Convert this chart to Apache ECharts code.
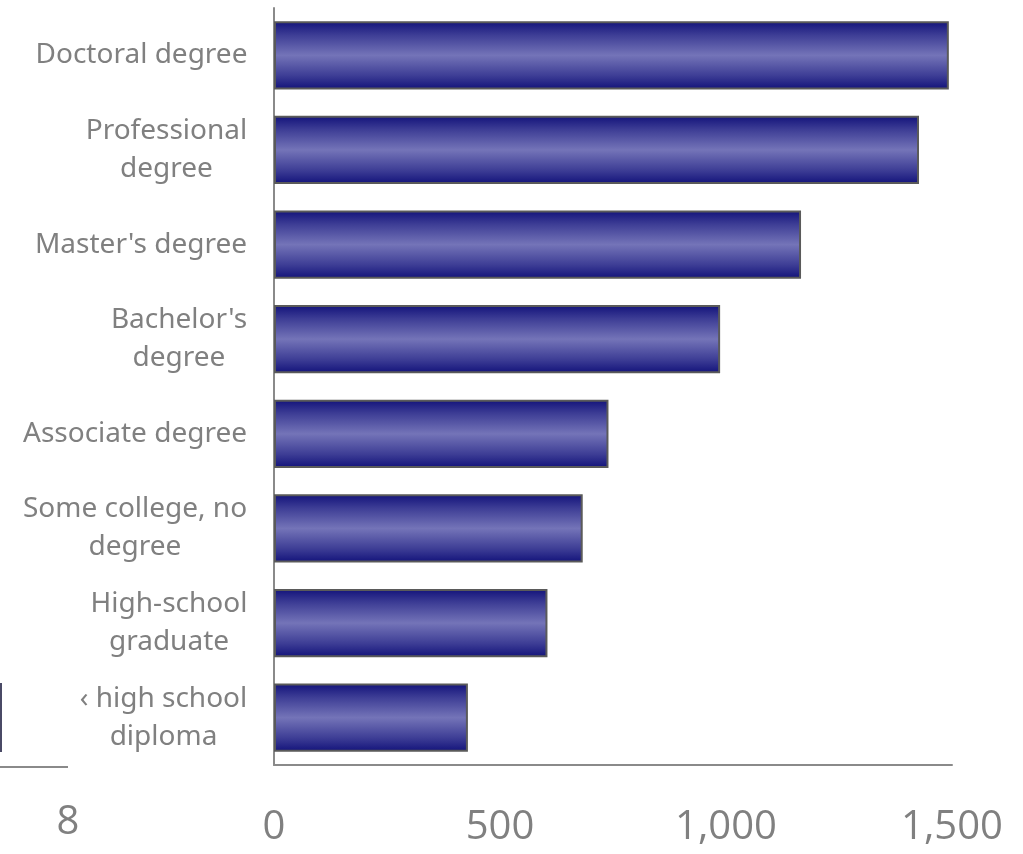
<!DOCTYPE html>
<html>
<head>
<meta charset="utf-8">
<script src="https://cdn.jsdelivr.net/npm/echarts@6/dist/echarts.min.js"></script>
<style>
html,body{margin:0;padding:0;background:#fff;}
#chart{width:1023px;height:854px;}
</style>
</head>
<body>
<div id="chart"></div>
<script>
const categories = [
  "Doctoral degree",
  "Professional\ndegree",
  "Master's degree",
  "Bachelor's\ndegree",
  "Associate degree",
  "Some college, no\ndegree",
  "High-school\ngraduate",
  "‹ high school\ndiploma"
];
const values = [1493, 1427, 1166, 987, 740, 683, 605, 429];
const xTicks = [0, 500, 1000, 1500];

const catFont = '28px "Noto Sans"';
const ctx = document.createElement('canvas').getContext('2d');
ctx.font = catFont;
const rich = {};
categories.forEach(function (c, i) {
  const w = Math.max.apply(null, c.split('\n').map(function (l) { return ctx.measureText(l).width; }));
  rich['c' + i] = { width: Math.ceil(w) + 1, align: 'center', fontSize: 28, fontFamily: 'Noto Sans', color: '#808080', lineHeight: 38 };
});

const chart = echarts.init(document.getElementById('chart'));
const barGradient = new echarts.graphic.LinearGradient(0, 0, 0, 1, [
  { offset: 0, color: '#12127a' },
  { offset: 0.2, color: '#3d3d95' },
  { offset: 0.5, color: '#7474b8' },
  { offset: 0.8, color: '#3d3d95' },
  { offset: 1, color: '#12127a' }
]);

chart.setOption({
  animation: false,
  backgroundColor: '#ffffff',
  grid: { left: 274, right: 71, top: 8, bottom: 89 },
  xAxis: {
    type: 'value',
    min: 0,
    max: 1500,
    interval: 500,
    axisLine: { show: true, lineStyle: { color: '#8a8a8a', width: 2 } },
    axisTick: { show: false },
    splitLine: { show: false },
    axisLabel: {
      margin: 43,
      color: '#808080',
      fontSize: 40,
      fontFamily: 'Open Sans',
      formatter: function (v) { return xTicks.indexOf(v) >= 0 ? v.toLocaleString('en-US') : ''; }
    }
  },
  yAxis: {
    type: 'category',
    inverse: true,
    data: categories,
    axisLine: { show: true, lineStyle: { color: '#8a8a8a', width: 2 } },
    axisTick: { show: false },
    axisLabel: {
      margin: 26,
      align: 'right',
      formatter: function (v, i) { return '{c' + i + '|' + v + '}'; },
      rich: rich
    }
  },
  series: [{
    type: 'bar',
    data: values,
    barCategoryGap: '28%',
    itemStyle: { color: barGradient, borderColor: '#5a5a5a', borderWidth: 2 }
  }],
  graphic: [
    { type: 'line', shape: { x1: 1, y1: 683, x2: 1, y2: 752 }, style: { stroke: '#4a4a66', lineWidth: 2 } },
    { type: 'line', shape: { x1: 0, y1: 767, x2: 68, y2: 767 }, style: { stroke: '#8a8a8a', lineWidth: 2 } },
    { type: 'text', x: 68, y: 823, style: { text: '8', fill: '#808080', font: '40px "Open Sans"', textAlign: 'center', textVerticalAlign: 'middle' } }
  ]
});
</script>
</body>
</html>
